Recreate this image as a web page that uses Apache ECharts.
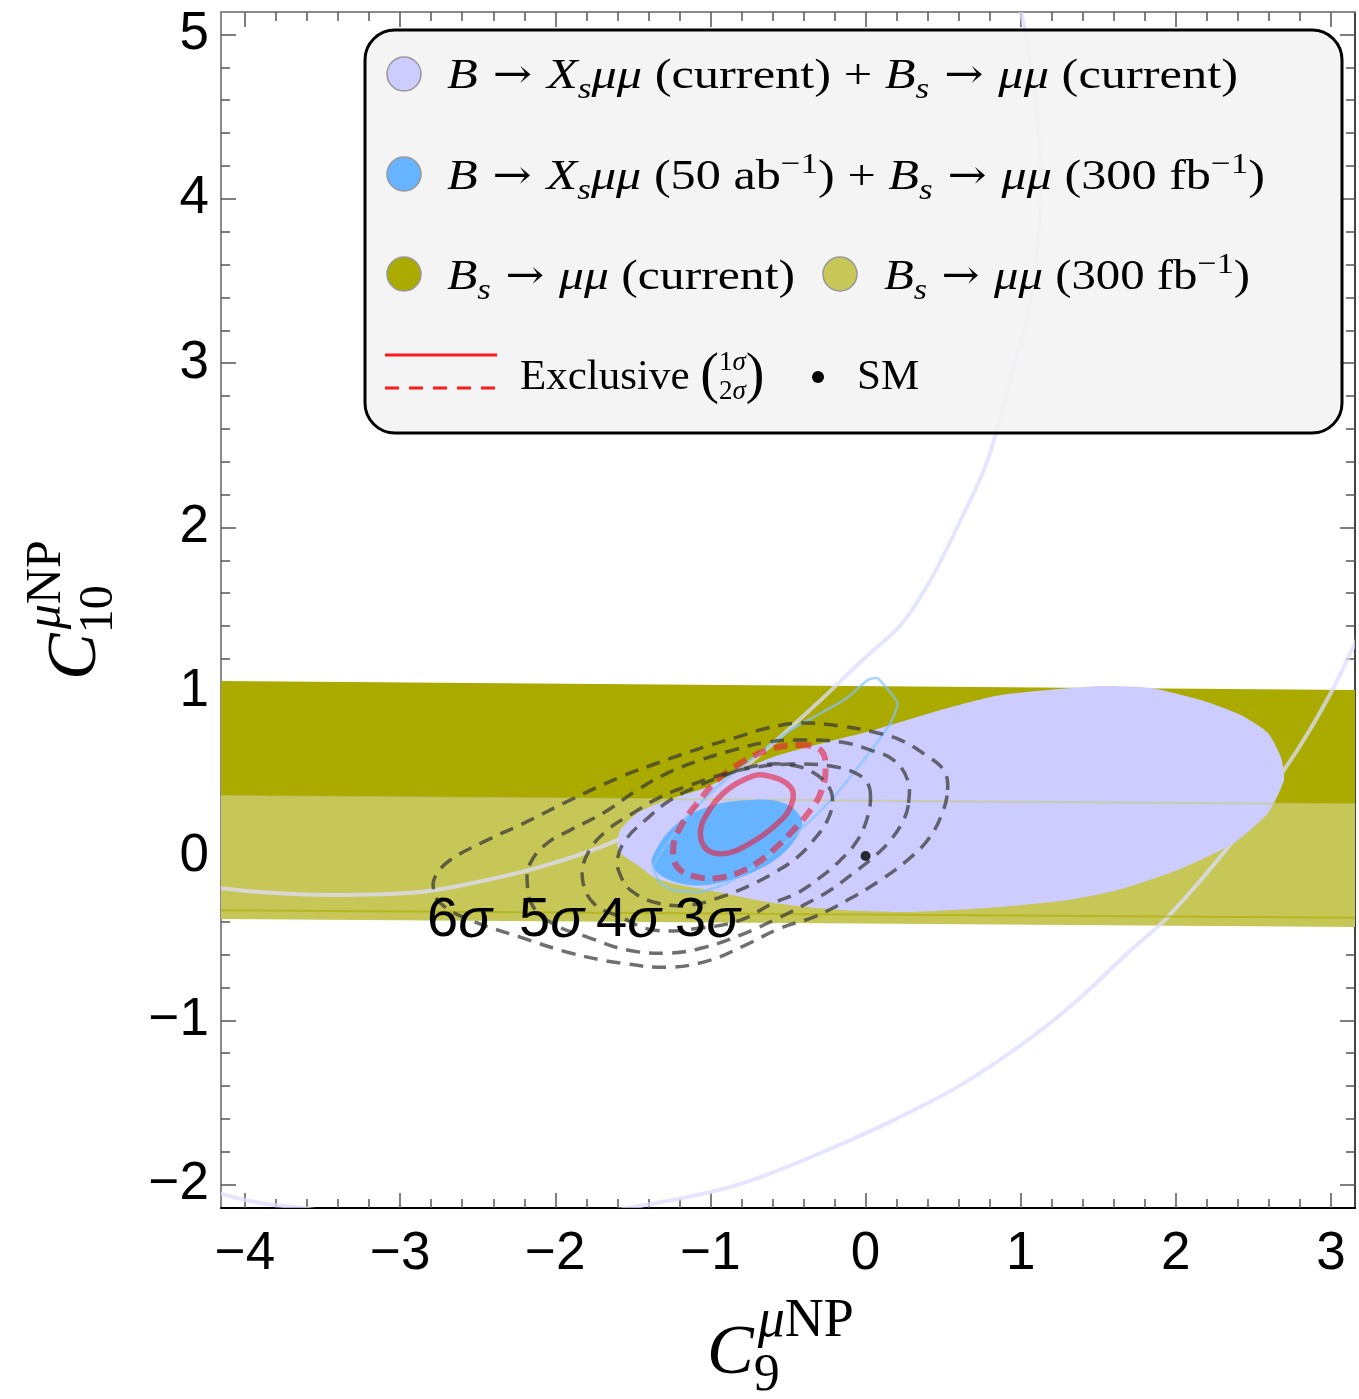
<!DOCTYPE html>
<html>
<head>
<meta charset="utf-8">
<script src="https://cdn.jsdelivr.net/npm/echarts@6.0.0/dist/echarts.min.js"></script>
<style>
  html, body { margin: 0; padding: 0; background: #fff; }
  #chart { width: 1359px; height: 1399px; }
</style>
</head>
<body>
<div id="chart"></div>
<script>
// ---- axis ranges and ticks (C9 horizontal, C10 vertical) ----
const xRange = [-4.155, 3.155];
const yRange = [-2.142, 5.137];
const xMajorTicks = [-4, -3, -2, -1, 0, 1, 2, 3];
const xMinorTicks = [-3.8, -3.6, -3.4, -3.2, -2.8, -2.6, -2.4, -2.2, -1.8, -1.6, -1.4, -1.2,
  -0.8, -0.6, -0.4, -0.2, 0.2, 0.4, 0.6, 0.8, 1.2, 1.4, 1.6, 1.8, 2.2, 2.4, 2.6, 2.8];
const yMajorTicks = [-2, -1, 0, 1, 2, 3, 4, 5];
const yMinorTicks = [-1.8, -1.6, -1.4, -1.2, -0.8, -0.6, -0.4, -0.2, 0.2, 0.4, 0.6, 0.8,
  1.2, 1.4, 1.6, 1.8, 2.2, 2.4, 2.6, 2.8, 3.2, 3.4, 3.6, 3.8, 4.2, 4.4, 4.6, 4.8];

// ---- Bs -> mu mu bands ----
const bandCurrent = [[-4.3, 1.066], [3.3, 1.009], [3.3, -0.376], [-4.3, -0.329]];
const band300 = [[-4.3, 0.366], [3.3, 0.315], [3.3, -0.433], [-4.3, -0.382]];
const bandCurrentLower = [[-4.3, -0.329], [3.3, -0.376]];
const band300Upper = [[-4.3, 0.366], [3.3, 0.315]];

// ---- B -> Xs mu mu (current) annulus edges ----
const annulusInner = [[0.99, 5.2], [1.097, 4.601], [1.129, 3.993], [1.065, 3.384], [0.955, 2.976],
  [0.787, 2.410], [0.613, 2.045], [0.419, 1.680], [0.226, 1.406], [-0.019, 1.193], [-0.310, 0.931],
  [-0.594, 0.688], [-0.806, 0.523], [-1.065, 0.371], [-1.323, 0.250], [-1.600, 0.097], [-2.013, -0.043],
  [-2.439, -0.146], [-2.871, -0.219], [-3.452, -0.237], [-3.903, -0.219], [-4.3, -0.18]];
const annulusOuter = [[3.174, 1.333], [3.019, 1.029], [2.852, 0.749], [2.697, 0.523], [2.374, 0.097],
  [1.948, -0.371], [1.690, -0.590], [1.368, -0.876], [1.045, -1.120], [0.613, -1.394], [0.181, -1.607],
  [-0.245, -1.789], [-0.677, -1.954], [-1.0, -2.045], [-1.535, -2.143], [-2.0, -2.205], [-2.6, -2.235],
  [-3.2, -2.2], [-3.626, -2.143], [-3.903, -2.112], [-4.155, -2.057], [-4.3, -2.0]];

// ---- combined regions ----
const inclCurrent = [[-1.600, 0.079], [-1.581, 0.158], [-1.471, 0.262], [-1.277, 0.341], [-1.019, 0.420],
  [-0.806, 0.523], [-0.594, 0.603], [-0.374, 0.663], [0.052, 0.767], [0.484, 0.889], [0.871, 0.980],
  [1.516, 1.035], [1.839, 1.023], [2.161, 0.949], [2.419, 0.858], [2.594, 0.749], [2.677, 0.603],
  [2.697, 0.463], [2.594, 0.262], [2.374, 0.079], [2.013, -0.085], [1.626, -0.207], [1.303, -0.268],
  [0.871, -0.310], [0.271, -0.341], [-0.161, -0.329], [-0.594, -0.286], [-1.019, -0.207], [-1.258, -0.164],
  [-1.368, -0.128], [-1.452, -0.067], [-1.581, 0.018]];
const incl50 = [[-1.374, -0.006], [-1.239, 0.177], [-1.019, 0.298], [-0.742, 0.341], [-0.529, 0.323],
  [-0.419, 0.237], [-0.419, 0.158], [-0.529, 0.018], [-0.697, -0.085], [-0.916, -0.158], [-1.129, -0.177],
  [-1.303, -0.128], [-1.368, -0.067]];
const inclOutline = [[0.077, 1.083], [0.206, 0.931], [0.161, 0.809], [0.052, 0.663], [-0.077, 0.505],
  [-0.206, 0.359], [-0.374, 0.201], [-0.548, 0.055], [-0.723, -0.067], [-0.890, -0.164], [-1.065, -0.219],
  [-1.239, -0.207], [-1.323, -0.164], [-1.368, -0.067], [-1.277, 0.079], [-1.129, 0.262], [-0.955, 0.420],
  [-0.806, 0.542], [-0.632, 0.663], [-0.484, 0.767], [-0.335, 0.846], [-0.161, 0.937], [-0.097, 0.980],
  [0.013, 1.071]];

// ---- exclusive fit contours ----
const exclusive1s = [[-0.658, 0.493], [-0.484, 0.420], [-0.484, 0.298], [-0.594, 0.177], [-0.742, 0.079],
  [-0.890, 0.018], [-1.019, 0.037], [-1.065, 0.140], [-1.019, 0.262], [-0.916, 0.383], [-0.787, 0.463]];
const exclusive2s = [[-0.439, 0.676], [-0.290, 0.645], [-0.258, 0.523], [-0.290, 0.383], [-0.355, 0.280],
  [-0.465, 0.158], [-0.594, 0.037], [-0.742, -0.067], [-0.916, -0.128], [-1.084, -0.128], [-1.213, -0.067],
  [-1.239, 0.055], [-1.194, 0.177], [-1.084, 0.323], [-0.955, 0.463], [-0.806, 0.566], [-0.632, 0.645]];
const exclusive3s = [[-0.213, 0.341], [-0.245, 0.432], [-0.342, 0.511], [-0.484, 0.554], [-0.677, 0.554],
  [-0.871, 0.505], [-1.065, 0.432], [-1.258, 0.341], [-1.419, 0.219], [-1.548, 0.097], [-1.600, -0.024],
  [-1.581, -0.116], [-1.516, -0.207], [-1.342, -0.286], [-1.129, -0.298], [-0.935, -0.250], [-0.742, -0.177],
  [-0.581, -0.097], [-0.439, -0.006], [-0.335, 0.097], [-0.245, 0.219]];
const exclusive4s = [[0.032, 0.359], [0.013, 0.444], [-0.065, 0.505], [-0.226, 0.548], [-0.484, 0.560],
  [-0.742, 0.536], [-0.935, 0.493], [-1.129, 0.432], [-1.323, 0.359], [-1.497, 0.262], [-1.665, 0.158],
  [-1.787, 0.024], [-1.826, -0.128], [-1.755, -0.286], [-1.581, -0.371], [-1.368, -0.450], [-1.065, -0.438],
  [-0.806, -0.390], [-0.594, -0.286], [-0.439, -0.225], [-0.290, -0.128], [-0.161, -0.024], [-0.052, 0.097],
  [0.013, 0.237]];
const exclusive5s = [[0.277, 0.323], [0.271, 0.463], [0.181, 0.584], [0.032, 0.645], [-0.161, 0.694],
  [-0.419, 0.706], [-0.632, 0.694], [-0.852, 0.645], [-1.065, 0.584], [-1.277, 0.505], [-1.471, 0.402],
  [-1.690, 0.262], [-1.903, 0.158], [-2.052, 0.079], [-2.161, -0.043], [-2.181, -0.164], [-2.142, -0.310],
  [-2.0, -0.420], [-1.794, -0.493], [-1.535, -0.572], [-1.258, -0.590], [-1.032, -0.554], [-0.806, -0.481],
  [-0.548, -0.371], [-0.374, -0.286], [-0.226, -0.207], [-0.077, -0.103], [0.052, -0.006], [0.161, 0.097],
  [0.245, 0.219]];
const exclusive6s = [[0.529, 0.402], [0.503, 0.523], [0.387, 0.615], [0.226, 0.706], [0.052, 0.755],
  [-0.161, 0.791], [-0.419, 0.809], [-0.632, 0.779], [-0.826, 0.724], [-1.019, 0.670], [-1.194, 0.615],
  [-1.323, 0.572], [-1.581, 0.481], [-1.903, 0.341], [-2.226, 0.189], [-2.439, 0.097], [-2.677, -0.024],
  [-2.768, -0.116], [-2.787, -0.189], [-2.742, -0.286], [-2.548, -0.390], [-2.226, -0.493], [-1.903, -0.590],
  [-1.581, -0.651], [-1.258, -0.676], [-1.0, -0.633], [-0.774, -0.542], [-0.548, -0.438], [-0.335, -0.371],
  [-0.116, -0.268], [0.097, -0.146], [0.271, -0.024], [0.400, 0.097], [0.484, 0.237]];
const sigmaLabels = ['6', '5', '4', '3'];

const smPoint = [[0, 0]];

// ---- colours ----
const C_LAV = '#ccccff', C_BLUE = '#66b3ff', C_OLIVE = '#aaaa00', C_OLIVE_L = '#c7c757';

// ---- helpers ----
function shapeSeries(pts, closed, style, smooth) {
  return {
    type: 'custom', coordinateSystem: 'cartesian2d', clip: true, silent: true,
    data: [[pts[0][0], pts[0][1]]],
    renderItem: function (params, api) {
      return {
        type: closed ? 'polygon' : 'polyline',
        shape: { points: pts.map(function (p) { return api.coord(p); }), smooth: smooth || 0 },
        style: style
      };
    }
  };
}

const mctx = document.createElement('canvas').getContext('2d');
const SERIF = 'Liberation Serif', SANS = 'Liberation Sans';
function fontOf(st) { return (st.italic ? 'italic ' : '') + st.size + 'px "' + st.family + '"'; }
// lays out a run of text pieces along one baseline (sub/superscripts via dy)
function mathRow(x0, baseline, tokens, styles, opts) {
  opts = opts || {};
  let x = 0;
  const kids = [];
  tokens.forEach(function (tk) {
    const st = styles[tk[1]];
    mctx.font = fontOf(st);
    const w = mctx.measureText(tk[0]).width;
    kids.push({
      type: 'text', x: x + (st.dx || 0), y: (st.dy || 0) - st.size * 0.34, silent: true, z: 102,
      style: {
        text: tk[0], fontSize: st.size, fontFamily: st.family,
        fontStyle: st.italic ? 'italic' : 'normal', fill: '#000',
        textAlign: 'left', textVerticalAlign: 'middle'
      }
    });
    if (!tk[2]) x += w;
  });
  return {
    type: 'group', x: x0, y: baseline, rotation: opts.rotation || 0,
    scaleX: opts.width ? opts.width / x : 1, children: kids, z: 102
  };
}

const legendStyles = {
  it: { size: 43, family: SERIF, italic: true },
  rm: { size: 43, family: SERIF },
  ar: { size: 40, family: 'DejaVu Serif', dy: -1 },
  sub: { size: 30, family: SERIF, italic: true, dy: 9 },
  sup: { size: 30, family: SERIF, dy: -17 },
  par: { size: 56, family: SERIF, dy: 4 },
  fracTop: { size: 27, family: SERIF, dy: -20 },
  fracTopIt: { size: 27, family: SERIF, italic: true, dy: -20 },
  fracBot: { size: 27, family: SERIF, dy: 9 },
  fracBotIt: { size: 27, family: SERIF, italic: true, dy: 9 }
};
const xTitleStyles = {
  big: { size: 70, family: SERIF, italic: true },
  supIt: { size: 54, family: SERIF, italic: true, dy: -38, dx: 4 },
  supRm: { size: 54, family: SERIF, dy: -38, dx: 4 },
  sub: { size: 52, family: SERIF, dy: 16 }
};
const yTitleStyles = {
  big: { size: 70, family: SERIF, italic: true },
  supIt: { size: 50, family: SERIF, italic: true, dy: -36, dx: 4 },
  supRm: { size: 50, family: SERIF, dy: -36, dx: 4 },
  sub: { size: 48, family: SERIF, dy: 16 }
};
const sigmaStyles = {
  d: { size: 56, family: SANS },
  s: { size: 56, family: SANS, italic: true }
};

const AR = ' \u2192 ';
const row1 = [['B', 'it'], [AR, 'ar'], ['X', 'it'], ['s', 'sub'], ['\u03bc\u03bc', 'it'],
  [' (current) + ', 'rm'], ['B', 'it'], ['s', 'sub'], [AR, 'ar'], ['\u03bc\u03bc', 'it'], [' (current)', 'rm']];
const row2 = [['B', 'it'], [AR, 'ar'], ['X', 'it'], ['s', 'sub'], ['\u03bc\u03bc', 'it'],
  [' (50 ab', 'rm'], ['\u22121', 'sup'], [') + ', 'rm'], ['B', 'it'], ['s', 'sub'], [AR, 'ar'],
  ['\u03bc\u03bc', 'it'], [' (300 fb', 'rm'], ['\u22121', 'sup'], [')', 'rm']];
const row3a = [['B', 'it'], ['s', 'sub'], [AR, 'ar'], ['\u03bc\u03bc', 'it'], [' (current)', 'rm']];
const row3b = [['B', 'it'], ['s', 'sub'], [AR, 'ar'], ['\u03bc\u03bc', 'it'], [' (300 fb', 'rm'],
  ['\u22121', 'sup'], [')', 'rm']];

function axisPair(dim, pos, major, minor, lineColor, showLabels) {
  const common = { type: 'value', position: pos, min: dim === 'x' ? xRange[0] : yRange[0],
    max: dim === 'x' ? xRange[1] : yRange[1], splitLine: { show: false } };
  const fmt = function (v) { return String(v).replace('-', '\u2212'); };
  return [
    Object.assign({}, common, {
      axisLine: { show: true, onZero: false, lineStyle: { color: lineColor, width: 2 } },
      axisTick: { show: true, inside: true, length: 15, customValues: major, lineStyle: { color: '#555', width: 1.5 } },
      axisLabel: showLabels ? {
        show: true, customValues: major, formatter: fmt, color: '#000',
        fontSize: 53, fontFamily: SANS, margin: dim === 'x' ? 20 : 12
      } : { show: false }
    }),
    Object.assign({}, common, {
      axisLine: { show: false, onZero: false },
      axisTick: { show: true, inside: true, length: 9, customValues: minor, lineStyle: { color: '#555', width: 1.5 } },
      axisLabel: { show: false }
    })
  ];
}

const chart = echarts.init(document.getElementById('chart'), null, { width: 1359, height: 1399 });

const graphics = [
  // legend frame
  { type: 'rect', z: 99, shape: { x: 365, y: 30, width: 977, height: 403, r: 30 },
    style: { fill: 'rgba(243,243,243,0.88)', stroke: '#000', lineWidth: 3 } },
  { type: 'circle', z: 100, shape: { cx: 404, cy: 74, r: 17 }, style: { fill: C_LAV, stroke: '#999', lineWidth: 1.5 } },
  { type: 'circle', z: 100, shape: { cx: 404, cy: 174, r: 17 }, style: { fill: C_BLUE, stroke: '#999', lineWidth: 1.5 } },
  { type: 'circle', z: 100, shape: { cx: 404, cy: 274, r: 17 }, style: { fill: C_OLIVE, stroke: '#999', lineWidth: 1.5 } },
  { type: 'circle', z: 100, shape: { cx: 840, cy: 274, r: 17 }, style: { fill: C_OLIVE_L, stroke: '#999', lineWidth: 1.5 } },
  { type: 'line', z: 100, shape: { x1: 385, y1: 355, x2: 497, y2: 355 }, style: { stroke: '#ff1a1a', lineWidth: 3 } },
  { type: 'line', z: 100, shape: { x1: 385, y1: 388, x2: 497, y2: 388 }, style: { stroke: '#ff1a1a', lineWidth: 3, lineDash: [14, 10] } },
  { type: 'circle', z: 100, shape: { cx: 818, cy: 377, r: 6 }, style: { fill: '#000' } },
  mathRow(447, 91, row1, legendStyles, { width: 791 }),
  mathRow(447, 192, row2, legendStyles, { width: 818 }),
  mathRow(447, 292, row3a, legendStyles, { width: 348 }),
  mathRow(884, 292, row3b, legendStyles, { width: 366 }),
  mathRow(520, 392, [['Exclusive ', 'rm'], ['(', 'par'], ['1', 'fracTop', true], ['2', 'fracBot'],
    ['\u03c3', 'fracTopIt', true], ['\u03c3', 'fracBotIt'], [')', 'par']], legendStyles),
  mathRow(857, 392, [['SM', 'rm']], legendStyles),
  // axis titles
  mathRow(707, 1378, [['C', 'big'], ['9', 'sub', true], ['\u03bc', 'supIt'], ['NP', 'supRm']], xTitleStyles),
  mathRow(100, 680, [['C', 'big'], ['10', 'sub', true], ['\u03bc', 'supIt'], ['NP', 'supRm']], yTitleStyles,
    { rotation: Math.PI / 2 })
];
// contour level labels
const sigmaX = [427, 519, 596, 675];
sigmaLabels.forEach(function (d, i) {
  graphics.push(mathRow(sigmaX[i], 940, [[d, 'd'], ['\u03c3', 's']], sigmaStyles));
});

const gray = { fill: null, stroke: 'rgba(55,55,55,0.72)', lineWidth: 3.5, lineDash: [14, 9] };

chart.setOption({
  animation: false,
  backgroundColor: '#fff',
  grid: { left: 221, right: 4, top: 12, bottom: 191, containLabel: false, outerBoundsMode: 'none' },
  xAxis: axisPair('x', 'bottom', xMajorTicks, xMinorTicks, '#000', true)
    .concat(axisPair('x', 'top', xMajorTicks, xMinorTicks, '#8a8a8a', false)),
  yAxis: axisPair('y', 'left', yMajorTicks, yMinorTicks, '#8a8a8a', true)
    .concat(axisPair('y', 'right', yMajorTicks, yMinorTicks, '#444', false)),
  graphic: { elements: graphics },
  series: [
    shapeSeries(bandCurrent, true, { fill: C_OLIVE, stroke: null }),
    shapeSeries(band300, true, { fill: C_OLIVE_L, stroke: null }),
    shapeSeries(annulusInner, false, { fill: null, stroke: 'rgba(220,220,255,0.75)', lineWidth: 4 }, 0.3),
    shapeSeries(annulusOuter, false, { fill: null, stroke: 'rgba(220,220,255,0.75)', lineWidth: 4 }, 0.3),
    shapeSeries(inclCurrent, true, { fill: C_LAV, stroke: null }, 0.2),
    shapeSeries(band300Upper, false, { fill: null, stroke: 'rgba(200,200,120,0.6)', lineWidth: 2 }),
    shapeSeries(bandCurrentLower, false, { fill: null, stroke: 'rgba(170,170,0,0.6)', lineWidth: 2 }),
    shapeSeries(incl50, true, { fill: C_BLUE, stroke: null }, 0.4),
    shapeSeries(inclOutline, true, { fill: null, stroke: 'rgba(130,195,255,0.7)', lineWidth: 2.5 }, 0.15),
    shapeSeries(exclusive1s, true, { fill: null, stroke: 'rgba(232,30,60,0.6)', lineWidth: 5.5 }, 0.4),
    shapeSeries(exclusive2s, true, { fill: null, stroke: 'rgba(232,30,60,0.6)', lineWidth: 6, lineDash: [14, 8] }, 0.4),
    shapeSeries(exclusive3s, true, gray, 0.4),
    shapeSeries(exclusive4s, true, gray, 0.4),
    shapeSeries(exclusive5s, true, gray, 0.4),
    shapeSeries(exclusive6s, true, gray, 0.4),
    { type: 'scatter', data: smPoint, symbolSize: 10, itemStyle: { color: '#000' }, silent: true, z: 5 }
  ]
});
</script>
</body>
</html>
